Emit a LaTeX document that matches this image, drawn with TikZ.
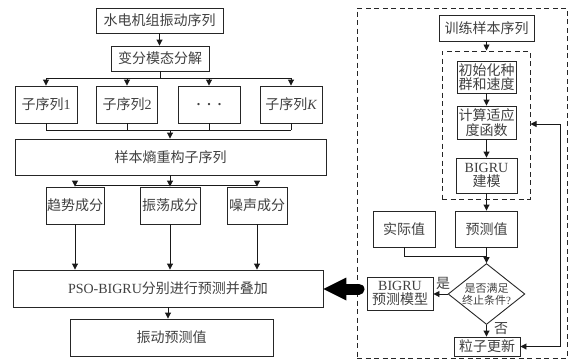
\documentclass[tikz,border=0pt]{standalone}
\usepackage{fontspec}
\setmainfont{Liberation Serif}
\newfontfamily\cjk{Noto Sans CJK SC}
\newfontfamily\lat{Liberation Serif}
\usetikzlibrary{arrows.meta,shapes.geometric}
\newcommand\cjkfs{\cjk\fontsize{14}{14.5}\selectfont}
\newcommand\cjksm{\cjk\fontsize{11}{12}\selectfont}
\begin{document}
\begin{tikzpicture}[x=1pt,y=-1pt,
  box/.style={draw=black!85, line width=0.9pt, inner sep=0pt, align=center, font=\cjkfs, text=black!75},
  arr/.style={draw=black!90, line width=0.9pt, -{Triangle[length=6pt,width=6pt]}},
  ln/.style={draw=black!90, line width=0.9pt},
  dbox/.style={draw=black!85, line width=1pt, dash pattern=on 5pt off 3.5pt, inner sep=0pt},
  lbl/.style={font=\cjkfs, text=black!75, inner sep=0pt}]
\useasboundingbox (0,0) rectangle (576,360);

% ---------- left column ----------
\node[box, minimum width=127pt, minimum height=25pt] (n1) at (159.5,20.5) {水电机组振动序列};
\node[box, minimum width=98pt, minimum height=25pt] (n2) at (160,58.5) {变分模态分解};
\node[box, minimum width=62pt, minimum height=37pt] (s1) at (46,104.5) {子序列{\lat 1}};
\node[box, minimum width=61pt, minimum height=37pt] (s2) at (127,104.5) {子序列{\lat 2}};
\node[box, minimum width=62pt, minimum height=37pt] (s3) at (209,104.5) {{\lat\bfseries .\hspace{7pt}.\hspace{7pt}.}};
\node[box, minimum width=62pt, minimum height=37pt] (s4) at (291,104.5) {子序列{\lat\itshape K}};
\node[box, minimum width=311pt, minimum height=36pt] (n3) at (170.5,157) {样本熵重构子序列};
\node[box, minimum width=58pt, minimum height=37pt] (c1) at (75,205.5) {趋势成分};
\node[box, minimum width=60pt, minimum height=37pt] (c2) at (170,205.5) {振荡成分};
\node[box, minimum width=60pt, minimum height=37pt] (c3) at (257,205.5) {噪声成分};
\node[box, minimum width=310pt, minimum height=37pt] (n4) at (168,288.5) {{\lat PSO-BIGRU}分别进行预测并叠加};
\node[box, minimum width=203pt, minimum height=37pt] (n5) at (171.5,337.5) {振动预测值};

\draw[arr] (n1.south) -- (n1.south |- n2.north);
\coordinate (b1) at (160,78);
\draw[ln] (n2.south) -- (b1);
\draw[ln] (s1.north |- b1) -- (s4.north |- b1);
\foreach \s in {s1,s2,s3,s4} \draw[arr] (\s.north |- b1) -- (\s.north);
\coordinate (b2) at (170,130);
\foreach \s in {s1,s2,s3,s4} \draw[ln] (\s.south) -- (\s.south |- b2);
\draw[ln] (s1.south |- b2) -- (s4.south |- b2);
\draw[arr] (b2) -- (b2 |- n3.north);
\coordinate (b3) at (170,185);
\draw[ln] (b3 |- n3.south) -- (b3);
\draw[ln] (c1.north |- b3) -- (c3.north |- b3);
\foreach \c in {c1,c2,c3} \draw[arr] (\c.north |- b3) -- (\c.north);
\foreach \c in {c1,c2,c3} \draw[arr] (\c.south) -- (\c.south |- n4.north);
\draw[arr] (n4.south) -- (n4.south |- n5.north);

% ---------- right column ----------
\node[dbox, minimum width=210pt, minimum height=350pt] (outer) at (462,183) {};
\node[dbox, minimum width=88pt, minimum height=148pt] (inner) at (486,125) {};
\node[box, minimum width=95pt, minimum height=26pt] (t1) at (486.5,28) {训练样本序列};
\node[box, minimum width=59pt, minimum height=32pt] (r1) at (486.5,77) {初始化种\\群和速度};
\node[box, minimum width=59pt, minimum height=33pt] (r2) at (486.5,122.5) {计算适应\\度函数};
\node[box, minimum width=61pt, minimum height=35pt] (r3) at (486.5,175.5) {{\lat BIGRU}\\建模};
\node[box, minimum width=62pt, minimum height=36pt] (a1) at (404,229) {实际值};
\node[box, minimum width=62pt, minimum height=36pt] (p1) at (486.5,229) {预测值};
\node[box, shape=diamond, aspect=1.26, minimum width=73pt, minimum height=58pt, font=\cjksm] (d) at (486.5,294) {是否满足\\终止条件{\lat ?}};
\node[box, minimum width=66pt, minimum height=33pt] (bm) at (400,293.5) {{\lat BIGRU}\\预测模型};
\node[box, minimum width=66pt, minimum height=19pt] (pu) at (487,346.5) {粒子更新};
\node[lbl] (yes) at (443,283) {是};
\node[lbl] (no) at (501,329) {否};

\draw[arr] (t1.south) -- (t1.south |- inner.north);
\draw[arr] (r1.south) -- (r2.north);
\draw[arr] (r2.south) -- (r3.north);
\draw[arr] (r3.south) -- (p1.north);
\coordinate (j) at (486.5,256);
\draw[ln] (a1.south) |- (j);
\draw[arr] (p1.south) -- (d.north);
\draw[arr] (d.west) -- (d.west -| bm.east);
\draw[arr] (d.south) -- (d.south |- pu.north);
\coordinate (fb) at (560,124);
\draw[arr] (fb) -- (fb -| inner.east);
\draw[arr] (fb) |- (pu.east);

% big arrow
\coordinate (ba) at (359,289);
\draw[line width=11pt, line cap=round] (ba) -- ([xshift=20pt]ba -| n4.east);
\fill (ba -| n4.east) -- ++(23,-11.5) -- ++(0,23) -- cycle;
\end{tikzpicture}
\end{document}
